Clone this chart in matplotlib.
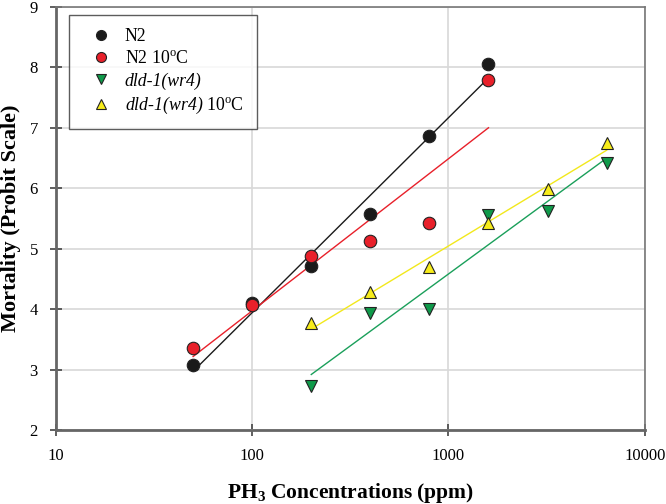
import matplotlib.pyplot as plt
import numpy as np

plt.rcParams['font.family'] = ['Liberation Serif', 'DejaVu Serif']
plt.rcParams['mathtext.fontset'] = 'custom'
plt.rcParams['mathtext.rm'] = 'Liberation Serif'
plt.rcParams['mathtext.it'] = 'Liberation Serif:italic'
plt.rcParams['mathtext.bf'] = 'Liberation Serif:bold'

# concentrations (ppm)
conc_n2 = [50, 100, 200, 400, 800, 1600]
conc_dld = [200, 400, 800, 1600, 3200, 6400]

# mortality (probit)
n2 = [3.08, 4.10, 4.72, 5.58, 6.86, 8.05]
n2_10c = [3.36, 4.06, 4.88, 5.13, 5.43, 7.79]
dld = [2.73, 3.93, 4.00, 5.55, 5.62, 6.42]
dld_10c = [3.77, 4.28, 4.70, 5.42, 5.98, 6.75]

deg = "$\\mathrm{10^{o}C}$"
series = [
    (conc_n2, n2, "N2", "o", "#1a1a1a", "#1a1a1a", False),
    (conc_n2, n2_10c, "N2 " + deg, "o", "#e8202a", "#e8202a", False),
    (conc_dld, dld, "dld-1(wr4)", "v", "#0f9a4a", "#1a9f5a", True),
    (conc_dld, dld_10c, "dld-1(wr4) " + deg, "^", "#f7ec1a", "#f2e81c", True),
]

fig = plt.figure(figsize=(6.66, 5.04), dpi=100)
ax = fig.add_axes([0.084, 0.147, 0.884, 0.839])

for x, y, lab, m, fc, lc, _ in series:
    x = np.array(x, dtype=float)
    y = np.array(y, dtype=float)
    # probit regression line on log dose
    b, a = np.polyfit(np.log10(x), y, 1)
    xs = np.array([x.min(), x.max()])
    ax.plot(xs, a + b * np.log10(xs), color=lc, lw=1.0, zorder=2)
    ax.plot(x, y, m, ms=9, mfc=fc, mec="#222222", mew=0.8, ls="none",
            label=lab, zorder=3)

ax.set_xscale("log")
ax.set_xlim(10, 10000)
ax.set_ylim(2, 9)
ax.set_xticks([10, 100, 1000, 10000])
ax.set_xticklabels(["10", "100", "1000", "10000"])
ax.minorticks_off()
ax.set_yticks(range(2, 10))
ax.grid(True, color="#d8d8d8", lw=1.2)
ax.set_axisbelow(True)

for s in ["left", "bottom"]:
    ax.spines[s].set_linewidth(2)
    ax.spines[s].set_color("#666666")
for s in ["top", "right"]:
    ax.spines[s].set_linewidth(1.2)
    ax.spines[s].set_color("#777777")
ax.tick_params(direction="inout", length=8, width=1.2, color="#444444",
               labelsize=12, pad=9, top=False, right=False)

ax.set_xlabel("PH$_\\mathbf{3}$ Concentrations (ppm)", fontsize=15.5,
              fontweight="bold", labelpad=12)
ax.set_ylabel("Mortality (Probit Scale)", fontsize=16, fontweight="bold",
              labelpad=6)

leg = ax.legend(loc="upper left", bbox_to_anchor=(0.022, 0.981), fontsize=12.8,
                frameon=True, fancybox=False, edgecolor="#333333",
                borderpad=0.75, labelspacing=0.28, handletextpad=0.3,
                borderaxespad=0, handlelength=2.1, markerscale=0.8)
leg.get_frame().set_linewidth(1.0)
for t, s in zip(leg.get_texts(), series):
    if s[6]:
        t.set_fontstyle("italic")

fig.savefig("out.png", dpi=100)
